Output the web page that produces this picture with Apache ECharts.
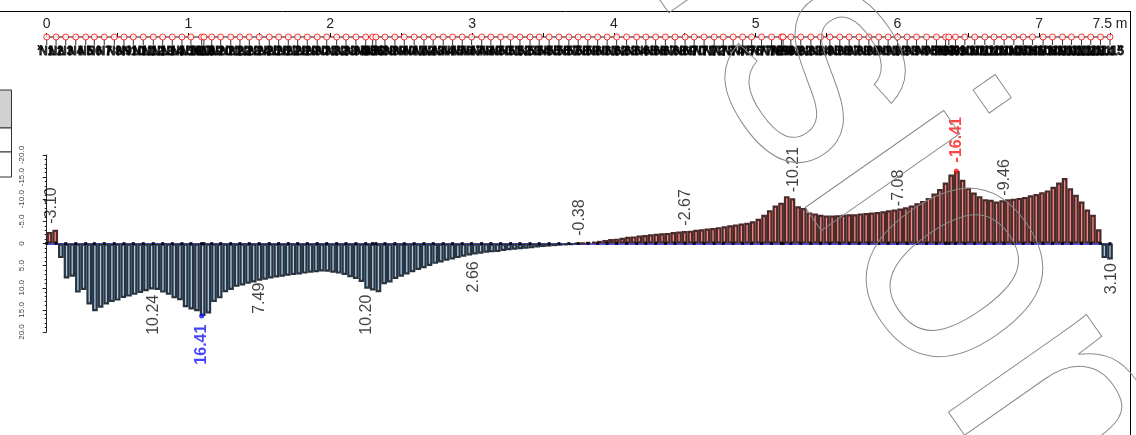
<!DOCTYPE html>
<html>
<head>
<meta charset="utf-8">
<script src="https://cdn.jsdelivr.net/npm/echarts@6/dist/echarts.min.js"></script>
<style>
html,body{margin:0;padding:0;background:#fff;}
#chart{width:1136px;height:435px;}
</style>
</head>
<body>
<div id="chart"></div>
<script>
// ---- data ----
// moment values sampled along the beam (m), negative = red (hogging, drawn up)
const sampleStep = 0.04;
const momentValues = [
 -2.6,-3.1,3.3,7.9,7.5,11.1,10.5,13.8,15.3,14.5,
 13.8,13.2,12.9,12.3,12.0,11.6,11.2,10.8,10.4,10.5,
 11.1,11.6,12.4,12.8,14.4,14.9,15.3,16.4,15.8,13.2,
 12.4,11.0,10.5,9.8,9.5,9.1,8.8,8.4,8.2,7.9,
 7.7,7.5,7.3,7.1,7.0,6.8,6.6,6.5,6.3,6.4,
 6.6,6.8,7.1,7.6,8.0,8.7,10.2,10.6,11.0,9.2,
 8.8,8.0,7.5,7.0,6.5,6.0,5.6,5.1,4.6,4.3,
 3.9,3.6,3.3,3.0,2.7,2.5,2.3,2.1,2.0,1.9,
 1.7,1.5,1.4,1.3,1.2,1.1,0.9,0.8,0.7,0.6,
 0.5,0.4,0.3,0.1,-0.1,-0.3,-0.4,-0.6,-0.8,-1.0,
 -1.1,-1.3,-1.5,-1.6,-1.8,-1.9,-2.1,-2.2,-2.3,-2.4,
 -2.6,-2.7,-2.8,-2.9,-3.1,-3.2,-3.4,-3.5,-3.7,-3.9,
 -4.1,-4.3,-4.5,-4.7,-5.0,-5.6,-6.5,-7.5,-8.6,-9.2,
 -10.7,-10.2,-8.4,-8.0,-7.0,-6.8,-6.5,-6.3,-6.3,-6.4,
 -6.5,-6.6,-6.6,-6.8,-6.9,-7.0,-7.1,-7.3,-7.5,-7.7,
 -7.9,-8.2,-8.6,-9.1,-9.6,-10.3,-11.3,-12.3,-13.8,-15.6,
 -16.4,-14.4,-12.6,-11.5,-10.7,-10.0,-9.9,-9.5,-9.8,-10.0,
 -10.1,-10.3,-10.5,-10.9,-11.2,-11.6,-12.0,-12.8,-13.8,-14.8,
 -12.5,-11.0,-9.5,-7.7,-6.5,-3.2,3.3,3.6
];
// node positions along the beam (m)
const nodeX = [
 0.000,0.066,0.134,0.205,0.275,0.336,0.406,0.477,0.545,0.611,
 0.681,0.752,0.818,0.886,0.954,1.017,1.093,1.109,1.164,1.227,
 1.298,1.363,1.429,1.499,1.570,1.636,1.704,1.770,1.838,1.908,
 1.975,2.045,2.111,2.181,2.250,2.299,2.322,2.386,2.456,2.522,
 2.592,2.661,2.726,2.797,2.863,2.931,2.997,3.068,3.133,3.202,
 3.272,3.338,3.409,3.474,3.544,3.613,3.683,3.749,3.817,3.886,
 3.953,4.020,4.090,4.161,4.226,4.295,4.364,4.432,4.503,4.567,
 4.637,4.708,4.772,4.842,4.909,4.972,5.042,5.113,5.183,5.194,
 5.249,5.319,5.390,5.458,5.524,5.594,5.660,5.730,5.799,5.869,
 5.935,6.001,6.069,6.135,6.206,6.276,6.340,6.363,6.410,6.476,
 6.546,6.617,6.682,6.753,6.822,6.888,6.953,7.028,7.094,7.165,
 7.228,7.299,7.364,7.433,7.500
];
// value labels
const labelX    = [0.035, 0.752, 1.093, 1.504, 2.257, 3.008, 3.756, 4.508, 5.265, 6.006, 6.416, 6.759, 7.510];
const labelV    = [-3.10, 10.24, 16.41, 7.49, 10.20, 2.66, -0.38, -2.67, -10.21, -7.08, -16.41, -9.46, 3.10];
const labelText = ['-3.10','10.24','16.41','7.49','10.20','2.66','-0.38','-2.67','-10.21','-7.08','-16.41','-9.46','3.10'];
const peakMin = 16.41, peakMax = -16.41;
// axis ticks
const rulerMax = 7.5, rulerUnit = 'm';
const yMin = -20, yMax = 20, yStep = 5;

// ---- chart ----
const FONT = '"Liberation Sans", Arial, sans-serif';
const chart = echarts.init(document.getElementById('chart'), null, {renderer:'canvas'});

const barData = momentValues.map((v,i)=>({
  value:[ (i+0.5)*sampleStep, v ],
  itemStyle: v < 0 ? {color:'#ff8880', borderColor:'#4a2a2a'} : {color:'#a8cdea', borderColor:'#2a3440'}
}));
const labelData = labelX.map((x,i)=>{
  const v = labelV[i];
  const isPeakPos = v === peakMin, isPeakNeg = v === peakMax;
  const color = isPeakPos ? '#1515ff' : (isPeakNeg ? '#ff1515' : '#111');
  return {
    value:[x,v],
    symbolSize: (isPeakPos||isPeakNeg) ? 5 : 0,
    itemStyle:{color},
    label:{
      show:true, formatter: labelText[i], rotate:90,
      position: v<0 ? 'top' : 'bottom',
      align: v<0 ? 'left' : 'right', verticalAlign:'middle',
      distance: 6, fontSize:16, fontFamily:FONT, color,
      fontWeight: (isPeakPos||isPeakNeg) ? 'bold' : 'normal'
    }
  };
});

const option = {
  animation:false,
  backgroundColor:'#fff',
  grid:[
    {left:46.7, right:26, top:155, height:177},
    {left:46.7, right:26, top:37, height:10}
  ],
  xAxis:[
    {gridIndex:0, type:'value', min:0, max:rulerMax,
     axisLine:{show:true, onZero:true, lineStyle:{color:'#1a1aee', width:1.5}},
     axisTick:{show:false}, axisLabel:{show:false}, splitLine:{show:false}},
    {gridIndex:1, type:'value', position:'top', min:0, max:rulerMax, interval:0.5,
     axisLine:{show:true, lineStyle:{color:'#8c8c8c', width:2}},
     axisTick:{show:true, length:4, lineStyle:{color:'#000', width:1}},
     axisLabel:{show:true, margin:6, fontSize:14, fontFamily:FONT, color:'#222',
       formatter:(v)=> v===rulerMax ? (v+' '+rulerUnit) : (Number.isInteger(v) ? String(v) : '')},
     splitLine:{show:false}}
  ],
  yAxis:[
    {gridIndex:0, type:'value', min:yMin, max:yMax, interval:yStep, inverse:true, offset:16,
     axisLine:{show:true, lineStyle:{color:'#222', width:1}},
     axisTick:{show:true, length:4, lineStyle:{color:'#222'}},
     minorTick:{show:true, splitNumber:5, length:2, lineStyle:{color:'#222'}},
     axisLabel:{show:true, rotate:90, fontSize:8, fontFamily:FONT, color:'#444', margin:5,
       formatter:(v)=> v===0 ? '0' : v.toFixed(1)},
     splitLine:{show:false}},
    {gridIndex:1, type:'value', min:0, max:1, inverse:true, show:false}
  ],
  series:[
    {type:'bar', xAxisIndex:0, yAxisIndex:0, data:barData, barWidth:5.7, clip:false, z:2,
     itemStyle:{borderWidth:2.2}},
    {type:'scatter', xAxisIndex:0, yAxisIndex:0, data:nodeX.map(x=>[x,0]),
     symbol:'rect', symbolSize:3, itemStyle:{color:'#000'}, z:3, silent:true},
    {type:'scatter', xAxisIndex:0, yAxisIndex:0, data:labelData, symbol:'circle', z:5, clip:false},
    // ruler: stems, node labels, node circles
    {type:'scatter', xAxisIndex:1, yAxisIndex:1, data:nodeX.map(x=>[x,0]),
     symbol:'rect', symbolSize:[1,6], symbolOffset:[0,5], itemStyle:{color:'#000'}, z:3,
     label:{show:true, position:'inside', offset:[0,10], fontSize:12, fontWeight:'bold',
       fontFamily:FONT, color:'#000', textBorderColor:'#000', textBorderWidth:0.8,
       formatter:(p)=>'N'+(p.dataIndex+1)}},
    {type:'scatter', xAxisIndex:1, yAxisIndex:1, data:nodeX.map(x=>[x,0]),
     symbol:'circle', symbolSize:6, itemStyle:{color:'#fff', borderColor:'#ff0000', borderWidth:1}, z:4}
  ],
  graphic:[
    {type:'line', shape:{x1:0,y1:11.5,x2:1131,y2:11.5}, style:{stroke:'#000', lineWidth:1}, z:10},
    {type:'line', shape:{x1:1130.5,y1:11,x2:1130.5,y2:435}, style:{stroke:'#000', lineWidth:1}, z:10},
    {type:'rect', shape:{x:-1,y:90,width:12.5,height:38}, style:{fill:'#d0d0d0', stroke:'#333', lineWidth:1}, z:10},
    {type:'rect', shape:{x:-1,y:128,width:12.5,height:24}, style:{fill:'#fff', stroke:'#333', lineWidth:1}, z:10},
    {type:'rect', shape:{x:-1,y:152,width:12.5,height:25}, style:{fill:'#fff', stroke:'#333', lineWidth:1}, z:10},
    {type:'text', x:40, y:48, z:10, style:{text:'»', fontSize:12, fontWeight:'bold', fontFamily:FONT, fill:'#000', align:'center', verticalAlign:'middle'}},
    {type:'text', x:1120, y:48, z:10, style:{text:'»', fontSize:12, fontWeight:'bold', fontFamily:FONT, fill:'#000', align:'center', verticalAlign:'middle'}},
    {type:'text', x:804, y:52, rotation:-55*Math.PI/180, z:100, silent:true,
     style:{text:'Version', fontSize:320, fontFamily:FONT, fill:'rgba(0,0,0,0)', stroke:'#8a8a8a', lineWidth:1,
       align:'center', verticalAlign:'middle'}}
  ]
};
chart.setOption(option);
</script>
</body>
</html>
